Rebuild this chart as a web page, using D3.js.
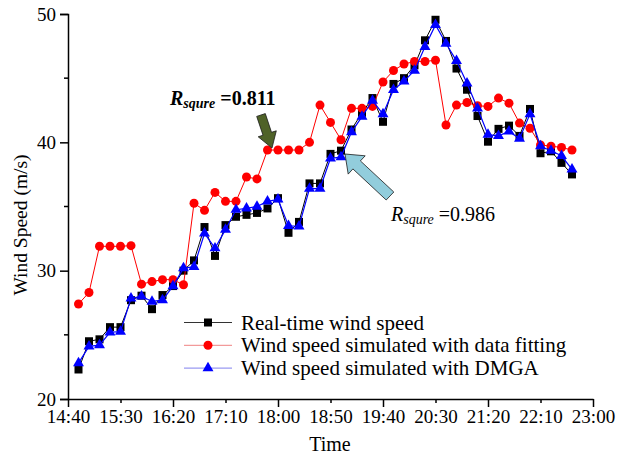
<!DOCTYPE html>
<html lang="en">
<head>
<meta charset="utf-8">
<title>Wind speed</title>
<style>
  body, html { margin:0; padding:0; background:#fff; }
  svg { display:block; }
  text { font-family: "Liberation Serif", "Times New Roman", serif; fill:#000; }
</style>
<script src="https://cdn.jsdelivr.net/npm/d3@7"></script>
</head>
<body>
<div id="chart"></div>
<script>
// sample times (10 min steps)
var times = ["14:50","15:00","15:10","15:20","15:30","15:40","15:50","16:00","16:10","16:20",
             "16:30","16:40","16:50","17:00","17:10","17:20","17:30","17:40","17:50","18:00",
             "18:10","18:20","18:30","18:40","18:50","19:00","19:10","19:20","19:30","19:40",
             "19:50","20:00","20:10","20:20","20:30","20:40","20:50","21:00","21:10","21:20",
             "21:30","21:40","21:50","22:00","22:10","22:20","22:30","22:40"];

var realSpeed = [22.3,24.5,24.65,25.6,25.6,27.7,28.05,27.0,28.1,28.8,
                 30.0,30.8,33.4,31.15,33.55,34.2,34.35,34.5,34.85,35.65,
                 32.95,33.8,36.8,36.8,39.1,39.35,41.0,42.3,43.45,41.6,
                 44.55,45.0,46.0,47.95,49.55,47.9,45.75,44.1,42.05,40.05,
                 41.05,41.3,40.5,42.6,39.15,39.3,38.4,37.5];

var fitSpeed = [27.4,28.3,31.9,31.9,31.9,31.95,28.95,29.15,29.3,29.3,
                28.9,35.25,34.7,36.1,35.4,35.4,37.3,37.15,39.4,39.4,
                39.4,39.4,40.0,42.9,41.55,40.2,42.65,42.65,42.8,44.7,
                45.6,46.1,46.3,46.3,46.4,41.35,42.9,43.1,42.85,42.8,
                43.45,43.05,41.5,41.1,39.8,39.7,39.6,39.4];

var dmgaSpeed = [22.8,24.1,24.2,25.2,25.25,27.85,28.0,27.6,27.7,28.8,
                 30.2,30.3,32.9,31.75,33.2,34.75,34.85,35.0,35.4,35.55,
                 33.5,33.45,36.4,36.4,38.75,38.85,40.8,42.0,43.25,42.2,
                 44.1,44.75,45.6,47.45,49.15,47.7,46.35,44.6,42.65,40.6,
                 40.5,40.85,40.3,42.2,39.7,39.35,38.95,37.9];

var xTickLabels = ["14:40","15:30","16:20","17:10","18:00","18:50","19:40","20:30","21:20","22:10","23:00"];
var yTickValues = [20,30,40,50];
var yMinorValues = [25,35,45];
var seriesNames = ["Real-time wind speed","Wind speed simulated with data fitting","Wind speed simulated with DMGA"];

var W = 624, H = 460;
var parseT = d3.timeParse("%H:%M");

var svg = d3.select("#chart").append("svg").attr("width", W).attr("height", H);

var x = d3.scaleTime().domain([parseT("14:40"), parseT("23:00")]).range([68, 593]);
var y = d3.scaleLinear().domain([20, 50]).range([399, 14]);

// axes
var xAxis = d3.axisBottom(x)
  .tickValues(xTickLabels.map(parseT))
  .tickFormat(d3.timeFormat("%H:%M"))
  .tickSizeOuter(0);
var gx = svg.append("g").attr("transform", "translate(0,399)").call(xAxis);
gx.select(".domain").attr("stroke-width", 1.5);
gx.selectAll(".tick line")
  .attr("stroke-width", 1.5)
  .attr("y2", function(d, i){ return i % 2 == 0 ? 8 : 4; });
gx.selectAll(".tick text")
  .attr("y", 11)
  .style("font-size", "19px")
  .style("font-family", "Liberation Serif, serif");

var yAxis = d3.axisLeft(y).tickValues(yTickValues).tickSizeOuter(0).tickSize(8).tickPadding(4);
var gy = svg.append("g").attr("transform", "translate(68,0)").call(yAxis);
gy.select(".domain").attr("stroke-width", 1.5);
gy.selectAll(".tick line").attr("stroke-width", 1.5);
gy.selectAll(".tick text")
  .style("font-size", "19px")
  .style("font-family", "Liberation Serif, serif");
gy.selectAll(".minor").data(yMinorValues).enter().append("line")
  .attr("class", "minor")
  .attr("x1", -4).attr("x2", 0)
  .attr("y1", function(d){ return y(d); }).attr("y2", function(d){ return y(d); })
  .attr("stroke", "#000").attr("stroke-width", 1.5);

// axis titles
svg.append("text")
  .attr("transform", "translate(27,225) rotate(-90)")
  .attr("text-anchor", "middle")
  .style("font-size", "19.5px")
  .text("Wind Speed (m/s)");
svg.append("text")
  .attr("x", 330).attr("y", 451)
  .attr("text-anchor", "middle")
  .style("font-size", "20px")
  .text("Time");

// series
var line = d3.line()
  .x(function(d){ return x(parseT(d[0])); })
  .y(function(d){ return y(d[1]); });

function pairs(vals) { return times.map(function(t, i){ return [t, vals[i]]; }); }

var triangle = d3.symbol().type(d3.symbolTriangle).size(52);

function drawSeries(vals, color, width, marker) {
  var g = svg.append("g");
  g.append("path").datum(pairs(vals))
    .attr("d", line).attr("fill", "none")
    .attr("stroke", color).attr("stroke-width", width);
  var pts = g.selectAll(".pt").data(pairs(vals)).enter();
  if (marker == "square") {
    pts.append("rect")
      .attr("x", function(d){ return x(parseT(d[0])) - 4; })
      .attr("y", function(d){ return y(d[1]) - 4; })
      .attr("width", 8).attr("height", 8)
      .attr("fill", color);
  } else if (marker == "circle") {
    pts.append("circle")
      .attr("cx", function(d){ return x(parseT(d[0])); })
      .attr("cy", function(d){ return y(d[1]); })
      .attr("r", 4.5)
      .attr("fill", color);
  } else {
    pts.append("path")
      .attr("d", triangle)
      .attr("transform", function(d){ return "translate(" + x(parseT(d[0])) + "," + y(d[1]) + ")"; })
      .attr("fill", color);
  }
}

drawSeries(realSpeed, "#000", 1, "square");
drawSeries(fitSpeed, "#ff0000", 1, "circle");
drawSeries(dmgaSpeed, "#0000ff", 1.2, "triangle");

// legend
var legend = svg.append("g");
var legendRows = [
  { name: seriesNames[0], line: "#333", fill: "#000", marker: "square" },
  { name: seriesNames[1], line: "#f29a9a", fill: "#ff0000", marker: "circle" },
  { name: seriesNames[2], line: "#9a9af2", fill: "#0000ff", marker: "triangle" }
];
legendRows.forEach(function(r, i) {
  var ly = 322.5 + i * 22.8;
  legend.append("line").attr("x1", 184).attr("x2", 232).attr("y1", ly).attr("y2", ly)
    .attr("stroke", r.line).attr("stroke-width", 1.2);
  if (r.marker == "square") {
    legend.append("rect").attr("x", 208 - 4).attr("y", ly - 4).attr("width", 8).attr("height", 8).attr("fill", r.fill);
  } else if (r.marker == "circle") {
    legend.append("circle").attr("cx", 208).attr("cy", ly).attr("r", 4.5).attr("fill", r.fill);
  } else {
    legend.append("path").attr("d", triangle).attr("transform", "translate(208," + ly + ")").attr("fill", r.fill);
  }
  legend.append("text").attr("x", 241).attr("y", ly + 7)
    .style("font-size", "21px").text(r.name);
});

// block arrows
function blockArrow(tail, tip, shaftW, headW, headLen) {
  var dx = tip[0] - tail[0], dy = tip[1] - tail[1];
  var len = Math.sqrt(dx*dx + dy*dy);
  var ux = dx / len, uy = dy / len, px = -uy, py = ux;
  var bx = tip[0] - ux * headLen, by = tip[1] - uy * headLen;
  var p = [
    [tail[0] + px*shaftW/2, tail[1] + py*shaftW/2],
    [bx + px*shaftW/2, by + py*shaftW/2],
    [bx + px*headW/2, by + py*headW/2],
    tip,
    [bx - px*headW/2, by - py*headW/2],
    [bx - px*shaftW/2, by - py*shaftW/2],
    [tail[0] - px*shaftW/2, tail[1] - py*shaftW/2]
  ];
  return "M" + p.map(function(q){ return q[0].toFixed(1) + "," + q[1].toFixed(1); }).join("L") + "Z";
}

svg.append("path")
  .attr("d", blockArrow([261, 115], [272, 148], 9, 19, 15))
  .attr("fill", "#4f6228").attr("stroke", "#1a1a1a").attr("stroke-width", 0.8);

svg.append("path")
  .attr("d", blockArrow([390, 196], [345, 154], 11, 25, 16))
  .attr("fill", "#92cddc").attr("stroke", "#1a1a1a").attr("stroke-width", 0.8);

// R-square annotations
var t1 = svg.append("text").attr("x", 170).attr("y", 105).style("font-weight", "bold");
t1.append("tspan").style("font-style", "italic").style("font-size", "20px").text("R");
t1.append("tspan").style("font-style", "italic").style("font-size", "14px").attr("dy", 3).text("squre");
t1.append("tspan").style("font-size", "20px").attr("dy", -3).text(" =0.811");

var t2 = svg.append("text").attr("x", 391).attr("y", 221);
t2.append("tspan").style("font-style", "italic").style("font-size", "20px").text("R");
t2.append("tspan").style("font-style", "italic").style("font-size", "14px").attr("dy", 3).text("squre");
t2.append("tspan").style("font-size", "20px").attr("dy", -3).text(" =0.986");
</script>
</body>
</html>
